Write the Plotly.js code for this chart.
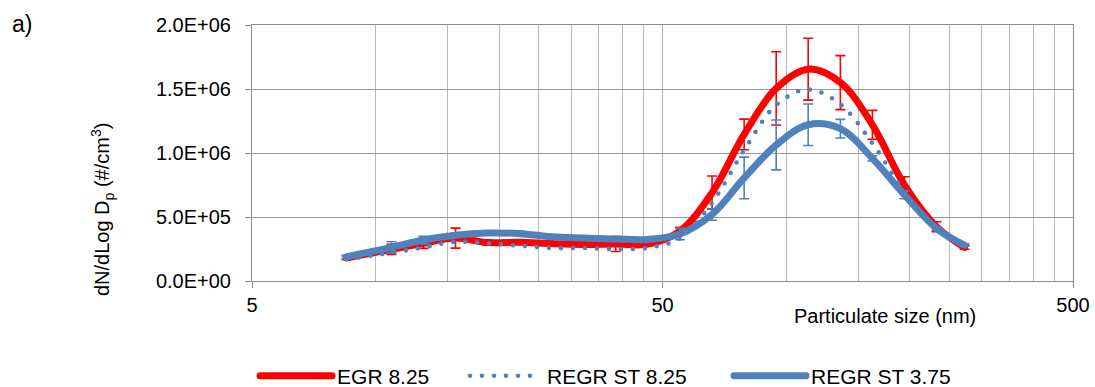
<!DOCTYPE html>
<html><head><meta charset="utf-8">
<script src="https://cdn.plot.ly/plotly-3.0.1.min.js"></script>
<style>
html,body{margin:0;padding:0;background:#fff;}
#chart .js-line{stroke-linecap:round;stroke-linejoin:round;}
</style>
</head><body>
<div id="chart" style="width:1095px;height:387px;"></div>
<script>
// Particle size (nm)
const sizes = [8.5, 10.93, 13.08, 15.66, 18.74, 22.43, 26.85, 32.14, 38.47, 46.05, 55.16, 66.03, 79.04, 94.61, 113.2, 135.6, 162.3, 194.2, 232.5, 272];
// dN/dLog Dp (#/cm3)
const egr825     = [182000, 247000, 294000, 335000, 300000, 302000, 292000, 286000, 289000, 288000, 390000, 690000, 1145000, 1505000, 1655000, 1550000, 1220000, 750000, 424000, 263000];
const regrSt825  = [169000, 221000, 263000, 307000, 294000, 276000, 258000, 258000, 250000, 260000, 333000, 612000, 1023000, 1375000, 1497000, 1380000, 1075000, 698000, 398000, 281000];
const regrSt375  = [190000, 263000, 320000, 357000, 375000, 370000, 346000, 336000, 328000, 325000, 367000, 520000, 805000, 1063000, 1221000, 1190000, 958000, 672000, 411000, 281000];
// error bars (+/-)
const egr825Err    = [15000, 39000, 39000, 78000, 20000, 15000, 15000, 15000, 59000, 15000, 30000, 130000, 120000, 286000, 242000, 211000, 113000, 65000, 39000, 15000];
const regrSt375Err = [10000, 44000, 30000, 15000, 15000, 20000, 10000, 10000, 10000, 10000, 45000, 45000, 163000, 195000, 162000, 73000, 20000, 30000, 15000, 10000];

const seriesNames = ['EGR 8.25', 'REGR ST 8.25', 'REGR ST 3.75'];
const xTickVals = [5, 50, 500];
const xTickText = ['5', '50', '500'];
const xMinorVals = [10, 15, 20, 25, 30, 35, 40, 45, 100, 150, 200, 250, 300, 350, 400, 450];
const yTickVals = [0, 500000, 1000000, 1500000, 2000000];
const yTickText = ['0.0E+00', '5.0E+05', '1.0E+06', '1.5E+06', '2.0E+06'];

const RED = '#ff0000', BLUE = '#4f81bd';

const traces = [
  {
    x: sizes, y: egr825, name: seriesNames[0], type: 'scatter', mode: 'lines',
    line: {color: RED, width: 7, shape: 'spline'},
    error_y: {type: 'data', array: egr825Err, visible: true, color: RED, thickness: 1.6, width: 5},
    legend: 'legend'
  },
  {
    x: sizes, y: regrSt375, name: seriesNames[2], type: 'scatter', mode: 'lines',
    line: {color: BLUE, width: 7, shape: 'spline'},
    error_y: {type: 'data', array: regrSt375Err, visible: true, color: BLUE, thickness: 1.6, width: 5},
    legend: 'legend3'
  },
  {
    x: sizes, y: regrSt825, name: seriesNames[1], type: 'scatter', mode: 'lines',
    line: {color: BLUE, width: 4.6, shape: 'spline', dash: '0px,12px'},
    legend: 'legend2'
  }
];

const legendBase = {orientation: 'h', xanchor: 'left', yref: 'container', y: 0.028, yanchor: 'middle',
                    font: {size: 21}, itemwidth: 72, bgcolor: 'rgba(0,0,0,0)'};

const layout = {
  width: 1095, height: 387,
  margin: {l: 252, r: 22, t: 25, b: 106, pad: 0, autoexpand: false},
  paper_bgcolor: '#ffffff', plot_bgcolor: '#ffffff',
  font: {family: 'Liberation Sans, Arial, sans-serif', size: 20, color: '#000'},
  showlegend: true,
  legend:  Object.assign({}, legendBase, {x: 0.0037}),
  legend2: Object.assign({}, legendBase, {x: 0.2594}),
  legend3: Object.assign({}, legendBase, {x: 0.581}),
  xaxis: {
    type: 'log', range: [Math.log10(5), Math.log10(500)],
    tickmode: 'array', tickvals: xTickVals, ticktext: xTickText,
    ticks: 'outside', ticklen: 6, tickcolor: '#8c8c8c', tickwidth: 1,
    showgrid: true, gridcolor: '#b4b4b4', gridwidth: 1,
    showline: true, linecolor: '#8c8c8c', linewidth: 1, mirror: true, zeroline: false,
    minor: {tickmode: 'array', tickvals: xMinorVals, showgrid: true, gridcolor: '#b9b9b9', gridwidth: 1, ticks: ''},
    fixedrange: true
  },
  yaxis: {
    range: [0, 2000000],
    tickmode: 'array', tickvals: yTickVals, ticktext: yTickText,
    ticks: 'outside', ticklen: 6, tickcolor: '#8c8c8c', tickwidth: 1,
    showgrid: true, gridcolor: '#999999', gridwidth: 1,
    showline: true, linecolor: '#8c8c8c', linewidth: 1, mirror: true, zeroline: false,
    ticklabelstandoff: 10,
    fixedrange: true
  },
  annotations: [
    {text: 'a)', xref: 'paper', yref: 'paper', x: -0.2948, y: 1.004, xanchor: 'left', yanchor: 'middle',
     showarrow: false, font: {size: 23}},
    {text: 'dN/dLog D<sub>p</sub> (#/cm<sup>3</sup>)', xref: 'paper', yref: 'paper', x: -0.1827, y: 0.277,
     xanchor: 'center', yanchor: 'middle', textangle: -90, showarrow: false, font: {size: 20}},
    {text: 'Particulate size (nm)', xref: 'paper', yref: 'paper', x: 0.771, y: -0.137,
     xanchor: 'center', yanchor: 'middle', showarrow: false, font: {size: 20}}
  ]
};

Plotly.newPlot('chart', traces, layout, {staticPlot: true, displayModeBar: false});
</script>
</body></html>
